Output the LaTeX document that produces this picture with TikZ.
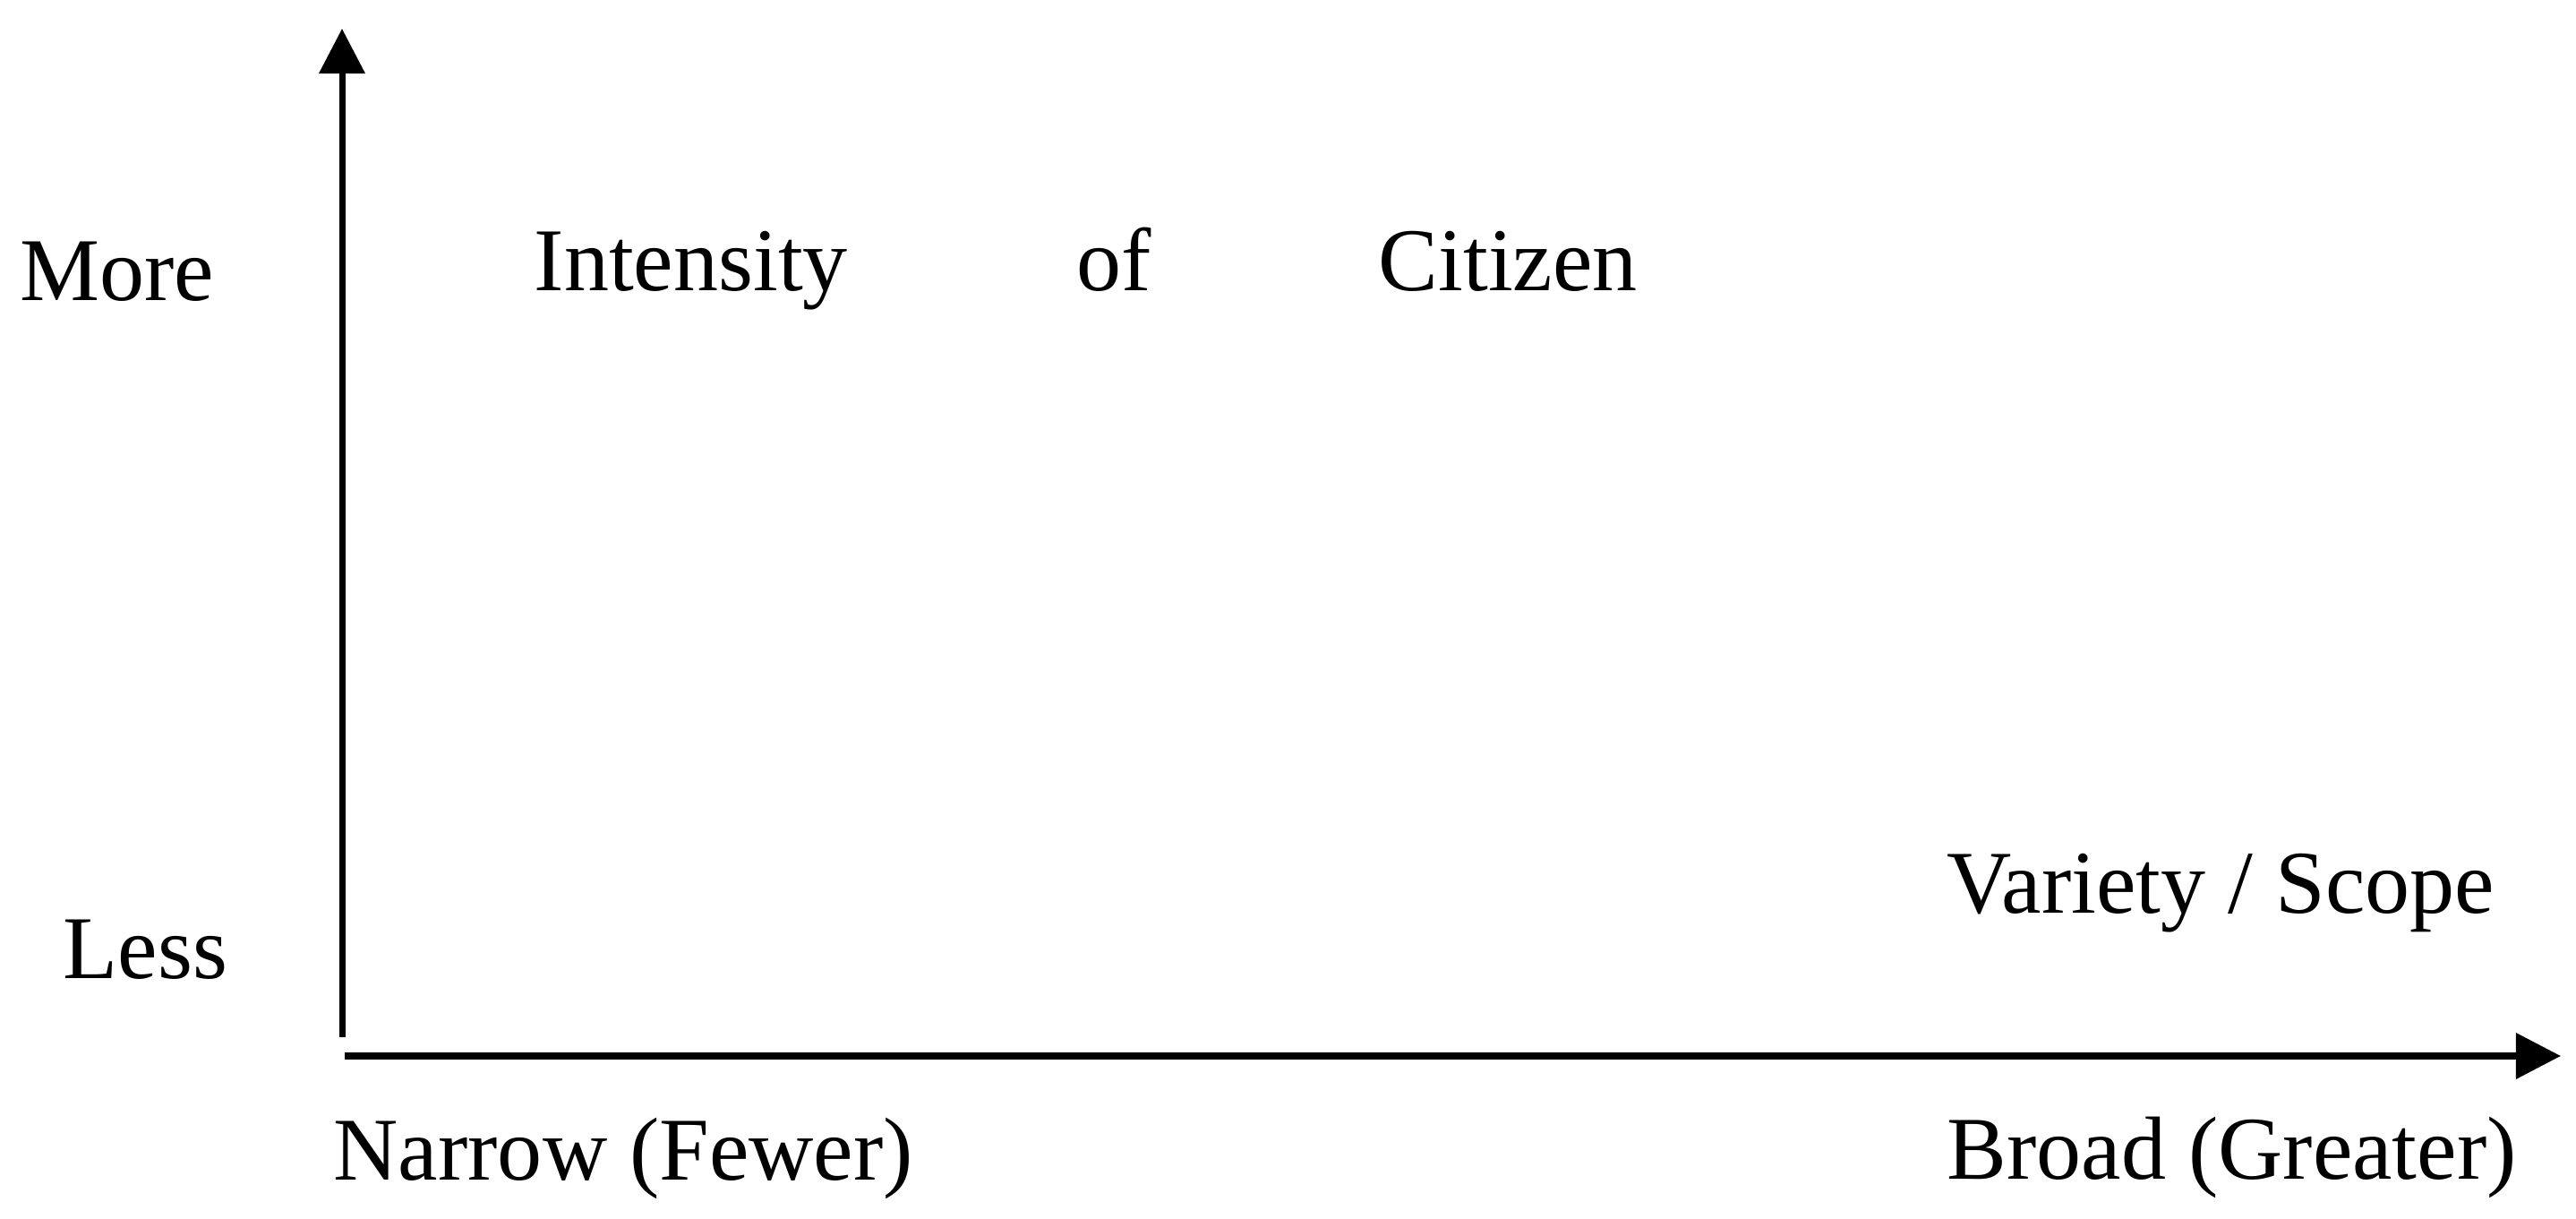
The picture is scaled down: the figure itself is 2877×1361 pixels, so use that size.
\documentclass[tikz,border=0pt]{standalone}
\usepackage{fontspec}
\setmainfont{Liberation Serif}
\usetikzlibrary{arrows.meta}
\begin{document}
\begin{tikzpicture}[x=0.01cm,y=-0.01cm,
  axis/.style={line width=0.07cm,-{Triangle[length=0.5cm,width=0.5cm]}},
  lbl/.style={anchor=base west,inner sep=0pt,font=\fontsize{28.45}{34}\selectfont}]
\useasboundingbox (0,0) rectangle (2877,1361);
\coordinate (ybot) at (382,1158);
\coordinate (ytop) at (382,32);
\coordinate (xleft) at (385,1179);
\coordinate (xright) at (2860,1179);
\draw[axis] (ybot) -- (ytop);
\draw[axis] (xleft) -- (xright);
\node[lbl] (more) at (22,336) {More};
\node[lbl] (less) at (70,1092) {Less};
\node[lbl] (intensity) at (596,325) {Intensity};
\node[lbl] (of) at (1202,325) {of};
\node[lbl] (citizen) at (1539,325) {Citizen};
\node[lbl] (variety) at (2174,1019) {Variety / Scope};
\node[lbl] (narrow) at (372,1317) {Narrow (Fewer)};
\node[lbl] (broad) at (2174,1316) {Broad (Greater)};
\end{tikzpicture}
\end{document}
